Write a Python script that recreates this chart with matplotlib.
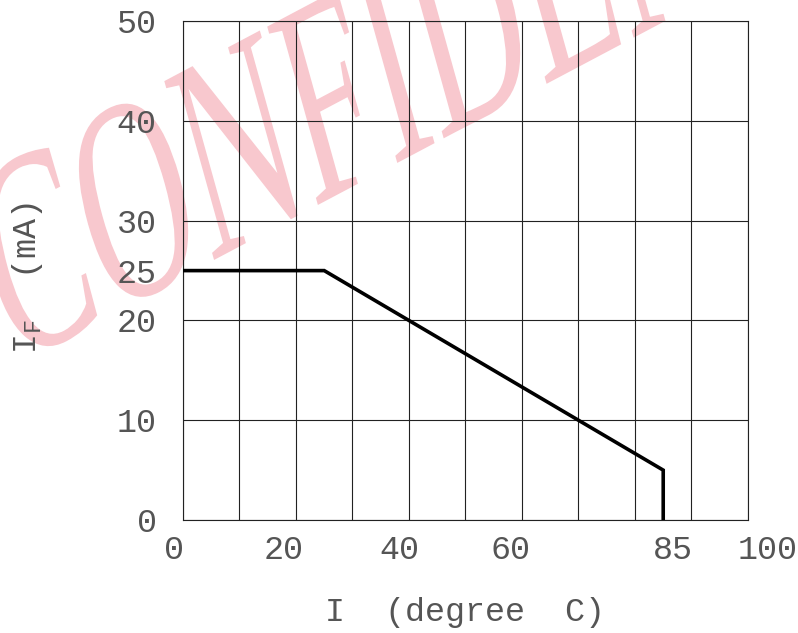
import matplotlib
matplotlib.use("Agg")
import matplotlib.pyplot as plt
from matplotlib.textpath import TextPath
from matplotlib.patches import PathPatch
from matplotlib.font_manager import FontProperties
from matplotlib.transforms import Affine2D, IdentityTransform, ScaledTranslation

# derating curve: forward current vs ambient temperature
temp = [0, 25, 85, 85]
current = [25, 25, 5, 0]

x_ticks = [0, 20, 40, 60, 85, 100]
x_labels = ["0", "20", "40", "60", "85", "100"]
y_ticks = [0, 10, 20, 25, 30, 40, 50]
y_labels = ["0", "10", "20", "25", "30", "40", "50"]
grid_x = list(range(0, 101, 10))
grid_y = list(range(0, 51, 10))

# small horizontal nudges of the x tick labels (pixels), as in the original
x_label_shift = [-9, -12, -10, -11, 10, 20]

fig = plt.figure(figsize=(7.98, 6.33), dpi=100)

# watermark, drawn in pixel coords behind everything
wm = TextPath((0, 0), "CONFIDENTIAL", size=212,
              prop=FontProperties(family="Liberation Serif"))
tr = Affine2D().scale(0.72, 1.0).rotate_deg(21).scale(1.0, 1.38).translate(12, 266)
fig.patches.append(PathPatch(wm, transform=tr + IdentityTransform(),
                             facecolor="#f8c8ce", edgecolor="none", zorder=-1))

ax = fig.add_axes([0.2293, 0.1785, 0.708, 0.788])
ax.set_zorder(1)
ax.set_facecolor("none")

for gx in grid_x:
    ax.axvline(gx, color="#222222", lw=0.8, zorder=1)
for gy in grid_y:
    ax.axhline(gy, color="#222222", lw=0.8, zorder=1)

ax.plot(temp, current, color="black", lw=2.6, solid_joinstyle="miter", zorder=3)

ax.set_xlim(0, 100)
ax.set_ylim(0, 50)
ax.set_xticks(x_ticks)
ax.set_xticklabels(x_labels)
ax.set_yticks(y_ticks)
ax.set_yticklabels(y_labels)
ax.tick_params(which="both", length=0)
ax.tick_params(axis="x", pad=11)
ax.tick_params(axis="y", pad=19)
for s in ax.spines.values():
    s.set_color("#222222")
    s.set_linewidth(0.8)

lab_font = dict(family="Liberation Mono", size=24, color="#555555")
for t in ax.get_xticklabels() + ax.get_yticklabels():
    t.set_fontfamily(lab_font["family"])
    t.set_fontsize(lab_font["size"])
    t.set_color(lab_font["color"])
for t, dx in zip(ax.get_xticklabels(), x_label_shift):
    t.set_transform(t.get_transform() + ScaledTranslation(dx / 100, 0, fig.dpi_scale_trans))

ax.set_xlabel("I  (degree  C)", **lab_font)
ax.set_ylabel("I$_\\mathregular{F}$  (mA)", **lab_font)
ax.xaxis.set_label_coords(0.5, -0.155)
ax.yaxis.set_label_coords(-0.245, 0.485)

fig.savefig("out.png", dpi=100)
